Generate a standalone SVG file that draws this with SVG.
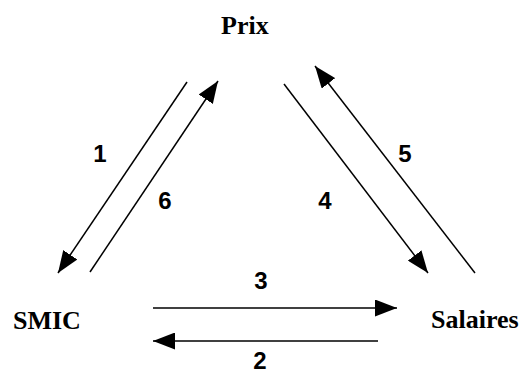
<svg xmlns="http://www.w3.org/2000/svg" width="521" height="373" viewBox="0 0 521 373">
  <style>
    .node { font-family: "Liberation Serif", "Times New Roman", serif; font-weight: bold; font-size: 26px; fill: #000; }
    .num { font-family: "Liberation Sans", Arial, sans-serif; font-weight: bold; font-size: 24px; fill: #000; text-anchor: middle; }
    .conn { stroke: #000; stroke-width: 1.5; fill: none; marker-end: url(#ah); }
  </style>
  <defs>
    <marker id="ah" markerUnits="userSpaceOnUse" markerWidth="22" markerHeight="17" viewBox="0 0 22 17" refX="22" refY="8.5" orient="auto">
      <path d="M0,0 L22,8.5 L0,17 Z" fill="#000"/>
    </marker>
  </defs>
  <rect width="521" height="373" fill="#fff"/>
  <g id="prix"><text class="node" x="221" y="34">Prix</text></g>
  <g id="smic"><text class="node" x="13" y="329">SMIC</text></g>
  <g id="salaires"><text class="node" x="431" y="328">Salaires</text></g>
  <g id="connectors">
    <line class="conn" x1="187" y1="82" x2="58" y2="273"/>
    <line class="conn" x1="90" y1="272" x2="218" y2="81"/>
    <line class="conn" x1="284" y1="84" x2="428" y2="273"/>
    <line class="conn" x1="475" y1="273" x2="315" y2="66"/>
    <line class="conn" x1="153" y1="308" x2="397" y2="308"/>
    <line class="conn" x1="378" y1="341" x2="153" y2="341"/>
  </g>
  <g id="labels">
    <text class="num" x="100" y="162">1</text>
    <text class="num" x="165" y="209">6</text>
    <text class="num" x="325" y="209">4</text>
    <text class="num" x="405" y="162">5</text>
    <text class="num" x="261" y="289">3</text>
    <text class="num" x="260" y="369">2</text>
  </g>
</svg>
